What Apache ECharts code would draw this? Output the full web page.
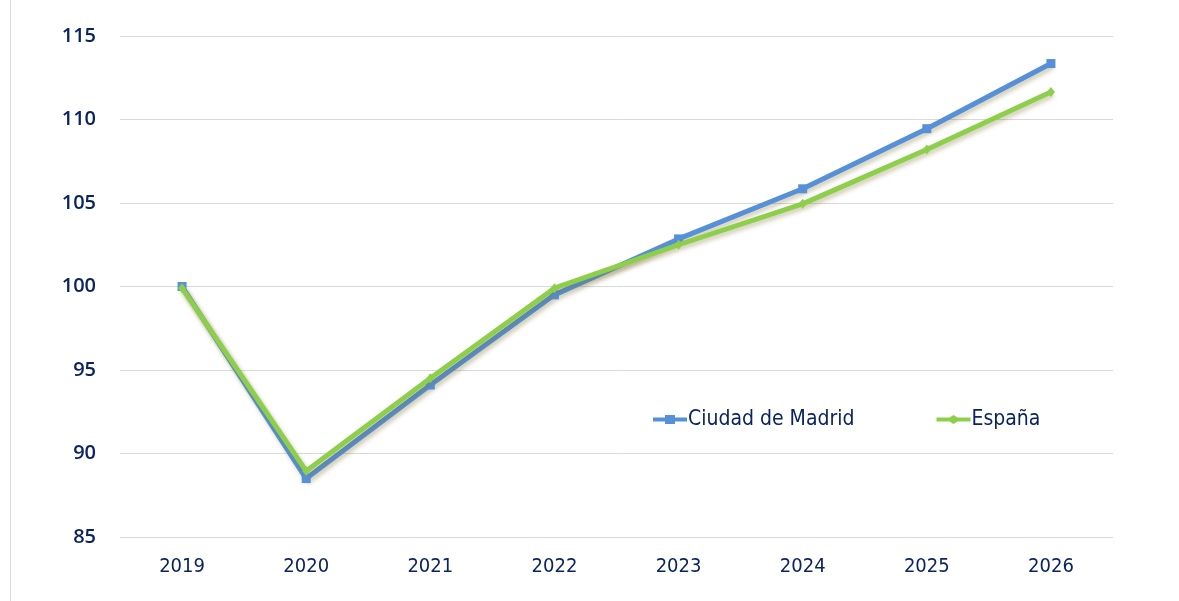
<!DOCTYPE html>
<html><head><meta charset="utf-8">
<script src="https://cdn.jsdelivr.net/npm/echarts@6/dist/echarts.min.js"></script>
<style>html,body{margin:0;padding:0;background:#fff}#c{width:1179px;height:601px}</style>
</head><body><div id="c"></div>
<script>
const categories = ['2019','2020','2021','2022','2023','2024','2025','2026'];
const madrid = [100, 88.5, 94.1, 99.5, 102.85, 105.85, 109.45, 113.35];
const espana = [99.9, 88.95, 94.5, 99.9, 102.5, 104.95, 108.2, 111.65];
const yTicks = [85, 90, 95, 100, 105, 110, 115];
const seriesNames = ['Ciudad de Madrid', 'España'];

const navy = '#0b2461';
const chart = echarts.init(document.getElementById('c'));
const shadow = {shadowColor:'rgba(120,110,40,0.35)', shadowBlur:4, shadowOffsetX:2, shadowOffsetY:3};
chart.setOption({
  animation:false,
  backgroundColor:'#fff',
  graphic:[{type:'line', shape:{x1:10.5,y1:0,x2:10.5,y2:601}, style:{stroke:'#d9d9d9', lineWidth:1}}],
  grid:{left:120, right:66, top:36, bottom:64},
  legend:{
    left:648, top:404, itemGap:82, itemWidth:34, itemHeight:10,
    textStyle:{color:navy, fontSize:21, fontWeight:500, fontFamily:'DejaVu Sans Condensed, sans-serif', padding:[0,0,0,-4]},
    data:[{name:seriesNames[0], icon:'path://M0,3 L12,3 L12,0.5 L22,0.5 L22,3 L34,3 L34,7 L22,7 L22,9.5 L12,9.5 L12,7 L0,7 Z'},
          {name:seriesNames[1], icon:'path://M0,3 L13,3 L17,0.5 L21,3 L34,3 L34,7 L21,7 L17,9.5 L13,7 L0,7 Z'}]
  },
  xAxis:{type:'category', data:categories, boundaryGap:true,
    axisLine:{show:false}, axisTick:{show:false},
    axisLabel:{color:navy, fontSize:20, fontWeight:500, margin:20, fontFamily:'DejaVu Sans Condensed, sans-serif'}},
  yAxis:{type:'value', min:85, max:115, interval:5,
    axisLine:{show:false}, axisTick:{show:false},
    splitLine:{lineStyle:{color:'#d9d9d9', width:1}},
    axisLabel:{color:navy, fontSize:20, fontWeight:600, margin:24, fontFamily:'Open Sans, sans-serif',
      formatter:v=>yTicks.includes(v)?String(v):''}},
  series:[
    {name:seriesNames[0], type:'line', data:madrid, symbol:'rect', symbolSize:9,
     lineStyle:{color:'#5590d8', width:5, ...shadow}, itemStyle:{color:'#5590d8'}, z:2},
    {name:seriesNames[1], type:'line', data:espana, symbol:'diamond', symbolSize:[8,10],
     lineStyle:{color:'#8dcf4a', width:5, ...shadow}, itemStyle:{color:'#8dcf4a'}, z:3}
  ]
});
</script></body></html>
